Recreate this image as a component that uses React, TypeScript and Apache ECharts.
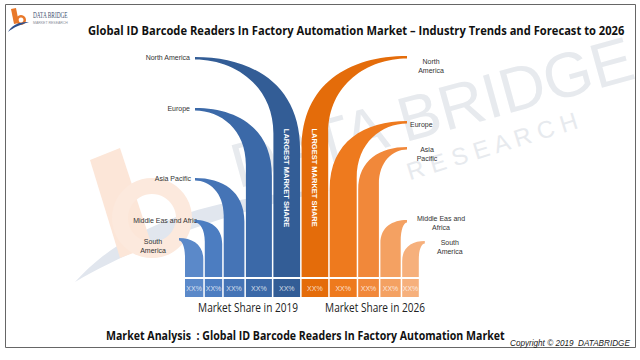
import React, { useEffect, useRef } from 'react';
import * as echarts from 'echarts';

// ---------- data ----------
const regions = ['North America', 'Europe', 'Asia Pacific', 'Middle East and Africa', 'South America'];
const labels2019 = ['North America', 'Europe', 'Asia Pacific', 'Middle Eas and Afric', 'South\nAmerica'];
const labels2026 = ['North\nAmerica', 'Europe', 'Asia\nPacific', 'Middle Eas and\nAfrica', 'South\nAmerica'];
const shareWidth2019 = [26.7, 26, 20.7, 17.4, 18.3];
const shareWidth2026 = [26.6, 27, 20.7, 20.3, 16.6];
const reach2019 = [220, 169, 99, 57, 39];
const reach2026 = [221, 156, 130, 57, 36];
const share2019 = ['XX%', 'XX%', 'XX%', 'XX%', 'XX%'];
const share2026 = ['XX%', 'XX%', 'XX%', 'XX%', 'XX%'];
const yearLabels = ['Market Share in 2019', 'Market Share in 2026'];
const largestLabel = 'LARGEST MARKET SHARE';
const titleText = 'Global ID Barcode Readers In Factory Automation Market \u2013 Industry Trends and Forecast to 2026';
const footerText = 'Market Analysis  : Global ID Barcode Readers In Factory Automation Market';
const copyrightText = 'Copyright \u00A9 2019  DATABRIDGE';

// ---------- styles ----------
const BLUES = ['#335d96', '#3b69a8', '#4574b6', '#4c7dc1', '#5b89c9'];
const ORANGES = ['#e46c0a', '#ee7a1e', '#f1883a', '#f4a162', '#f6b07c'];
const GAP = 1.5;
const LEFT_TIP = 195;
const RIGHT_TIP = 407;
const LABEL_FONT = '7px "Liberation Sans", Arial, sans-serif';

type Place = { dx: number; dy: number; align: string; vAlign: string };
const place2019: Place[] = [
  { dx: -5, dy: 0.5, align: 'right', vAlign: 'middle' },
  { dx: -5, dy: 0, align: 'right', vAlign: 'middle' },
  { dx: -4, dy: 0, align: 'right', vAlign: 'middle' },
  { dx: 2, dy: 0, align: 'right', vAlign: 'middle' },
  { dx: -26, dy: -1, align: 'center', vAlign: 'top' },
];
const place2026: Place[] = [
  { dx: 24, dy: 0.5, align: 'center', vAlign: 'top' },
  { dx: 3, dy: 3, align: 'left', vAlign: 'middle' },
  { dx: 20, dy: -2.5, align: 'center', vAlign: 'top' },
  { dx: 34, dy: -6.5, align: 'center', vAlign: 'top' },
  { dx: 25, dy: -3.5, align: 'center', vAlign: 'top' },
];

// column extents (in share-width units) derived from the data
const pos2019: number[][] = [];
const pos2026: number[][] = [];
let cursor = 0;
for (let i = regions.length - 1; i >= 0; i--) {
  pos2019[i] = [cursor, cursor + shareWidth2019[i]];
  cursor += shareWidth2019[i] + GAP;
}
for (let i = 0; i < regions.length; i++) {
  pos2026[i] = [cursor, cursor + shareWidth2026[i]];
  cursor += shareWidth2026[i] + GAP;
}
const X_MAX = cursor - GAP;

function argMax(a: number[]) {
  let m = 0;
  a.forEach((v, i) => { if (v > a[m]) m = i; });
  return m;
}

function makeRenderer(side: 'left' | 'right', colors: string[], labels: string[], shares: string[], places: Place[], maxIdx: number) {
  return (params: any, api: any) => {
    const i = params.dataIndex;
    const x0 = api.value(0);
    const x1 = api.value(1);
    const h = api.value(2);
    const b0 = api.coord([x0, 0]);
    const b1 = api.coord([x1, 0]);
    const t = api.coord([x0, h]);
    const xl = b0[0];
    const xr = b1[0];
    const yb = b0[1];
    const yt = t[1];
    const th = 2.5;
    let d: string;
    let xt: number;
    if (side === 'left') {
      xt = Math.min(LEFT_TIP, xl - 6);
      const reach = xr - xt;
      const drop = 0.88 * reach;
      const reachIn = xl - xt;
      const dropIn = 0.8 * drop;
      d = `M${xt} ${yt} C${xt + 0.55 * reach} ${yt} ${xr} ${yt + 0.3 * drop} ${xr} ${yt + drop} L${xr} ${yb} L${xl} ${yb} L${xl} ${yt + th + dropIn} C${xl} ${yt + th + 0.35 * dropIn} ${xt + 0.5 * reachIn} ${yt + th} ${xt} ${yt + th} Z`;
    } else {
      xt = Math.max(RIGHT_TIP, xr + 6);
      const reach = xt - xl;
      const drop = 0.88 * reach;
      const reachIn = xt - xr;
      const dropIn = 0.8 * drop;
      d = `M${xt} ${yt} C${xt - 0.55 * reach} ${yt} ${xl} ${yt + 0.3 * drop} ${xl} ${yt + drop} L${xl} ${yb} L${xr} ${yb} L${xr} ${yt + th + dropIn} C${xr} ${yt + th + 0.35 * dropIn} ${xt - 0.5 * reachIn} ${yt + th} ${xt} ${yt + th} Z`;
    }
    const p = places[i];
    const children: any[] = [
      { type: 'path', shape: { pathData: d }, style: { fill: colors[i] } },
      { type: 'rect', shape: { x: xl, y: yb + 2, width: xr - xl, height: 18 }, style: { fill: colors[i] } },
      {
        type: 'text', x: (xl + xr) / 2, y: yb + 11,
        style: { text: shares[i], align: 'center', verticalAlign: 'middle', fill: 'rgba(255,255,255,0.78)', font: LABEL_FONT },
      },
      {
        type: 'text', x: xt + p.dx, y: yt + p.dy,
        style: { text: labels[i], align: p.align, verticalAlign: p.vAlign, fill: '#333', font: LABEL_FONT, lineHeight: 9 },
      },
    ];
    if (i === maxIdx) {
      children.push({
        type: 'text', x: (xl + xr) / 2, y: yb - 0.45 * (yb - yt), rotation: -Math.PI / 2,
        style: { text: largestLabel, align: 'center', verticalAlign: 'middle', fill: '#ffffff', font: 'bold 7.5px "Liberation Sans", Arial, sans-serif' },
      });
    }
    return { type: 'group', children };
  };
}

let measureCtx: CanvasRenderingContext2D | null = null;
function measure(text: string, font: string) {
  if (!measureCtx) measureCtx = document.createElement('canvas').getContext('2d');
  if (!measureCtx) return 1;
  measureCtx.font = font;
  return measureCtx.measureText(text).width || 1;
}
function fitText(text: string, font: string, x: number, y: number, width: number, fill: string, align = 'left') {
  const s = width / measure(text, font);
  return { type: 'text', x, y, scaleX: s, z: 100, style: { text, font, fill, align, verticalAlign: 'middle' } };
}

function quadPts(a: number[], c: number[], b: number[], n: number) {
  const pts: number[][] = [];
  for (let k = 0; k <= n; k++) {
    const t = k / n;
    const u = 1 - t;
    pts.push([u * u * a[0] + 2 * u * t * c[0] + t * t * b[0], u * u * a[1] + 2 * u * t * c[1] + t * t * b[1]]);
  }
  return pts;
}

export default function App() {
  const ref = useRef<HTMLDivElement>(null);
  useEffect(() => {
    document.body.style.margin = '0';
    if (!ref.current) return;
    const chart = echarts.init(ref.current, null, { renderer: 'svg' });

    const swoosh = quadPts([75, 282], [150, 198], [330, 190], 24).concat(quadPts([330, 190], [170, 226], [75, 282], 24));
    const logoSwoosh = quadPts([8, 32], [13, 22], [29, 22], 12).concat(quadPts([29, 22], [15, 26], [8, 32], 12));

    const graphic: any[] = [
      // watermark
      { type: 'polygon', z: 0, shape: { points: swoosh }, style: { fill: '#e1e6ee' } },
      { type: 'polygon', z: 0, shape: { points: [[90, 160], [120, 148], [152, 246], [120, 258]] }, style: { fill: '#fce6d8' } },
      { type: 'ring', z: 0, shape: { cx: 152, cy: 218, r: 40, r0: 24 }, style: { fill: '#fce9dd' } },
      {
        type: 'text', z: 0, x: 432, y: 112, rotation: 0.27,
        style: { text: 'DATA BRIDGE', align: 'center', verticalAlign: 'middle', fill: '#e7eaee', font: '63px "Liberation Sans", Arial, sans-serif' },
      },
      {
        type: 'text', z: 0, x: 492, y: 146, rotation: 0.3,
        style: { text: 'R E S E A R C H', align: 'center', verticalAlign: 'middle', fill: '#e7eaee', font: '24px "Liberation Sans", Arial, sans-serif' },
      },
      // frame
      { type: 'rect', z: 100, shape: { x: 5.5, y: 4.5, width: 630, height: 343 }, style: { fill: 'none', stroke: '#666', lineWidth: 1 } },
      // logo
      { type: 'polygon', z: 100, shape: { points: [[11, 9], [16, 8], [19, 23], [14, 24]] }, style: { fill: '#e8782a' } },
      { type: 'ring', z: 100, shape: { cx: 21, cy: 20, r: 5, r0: 2.5 }, style: { fill: '#e8782a' } },
      { type: 'polygon', z: 100, shape: { points: logoSwoosh }, style: { fill: '#2d4f8e' } },
      fitText('DATA BRIDGE', '9px "Liberation Serif", serif', 33, 15, 35, '#3b4d6e'),
      fitText('MARKET RESEARCH', '4px "Liberation Sans", sans-serif', 33, 23, 35, '#8a8f99'),
      // texts
      fitText(titleText, 'bold 13px "Open Sans", sans-serif', 88, 30, 537, '#111'),
      fitText(footerText, 'bold 13px "Open Sans", sans-serif', 106, 335, 399, '#111'),
      fitText(copyrightText, 'italic 9px "Liberation Sans", Arial, sans-serif', 510, 343, 120, '#222'),
      fitText(yearLabels[0], '12px "Open Sans", sans-serif', 248, 307, 100, '#222', 'center'),
      fitText(yearLabels[1], '12px "Open Sans", sans-serif', 375, 307, 100, '#222', 'center'),
    ];

    chart.setOption({
      animation: false,
      backgroundColor: '#ffffff',
      grid: { left: 185, top: 47, width: X_MAX, height: 230 },
      xAxis: { type: 'value', min: 0, max: X_MAX, show: false },
      yAxis: { type: 'value', min: 0, max: 230, show: false },
      graphic,
      series: [
        {
          type: 'custom', name: '2019', clip: false, silent: true, z: 10,
          renderItem: makeRenderer('left', BLUES, labels2019, share2019, place2019, argMax(reach2019)),
          data: regions.map((r, i) => ({ name: r, value: [pos2019[i][0], pos2019[i][1], reach2019[i]] })),
        },
        {
          type: 'custom', name: '2026', clip: false, silent: true, z: 10,
          renderItem: makeRenderer('right', ORANGES, labels2026, share2026, place2026, argMax(reach2026)),
          data: regions.map((r, i) => ({ name: r, value: [pos2026[i][0], pos2026[i][1], reach2026[i]] })),
        },
      ],
    });
    return () => chart.dispose();
  }, []);
  return <div ref={ref} style={{ width: 640, height: 360 }} />;
}
